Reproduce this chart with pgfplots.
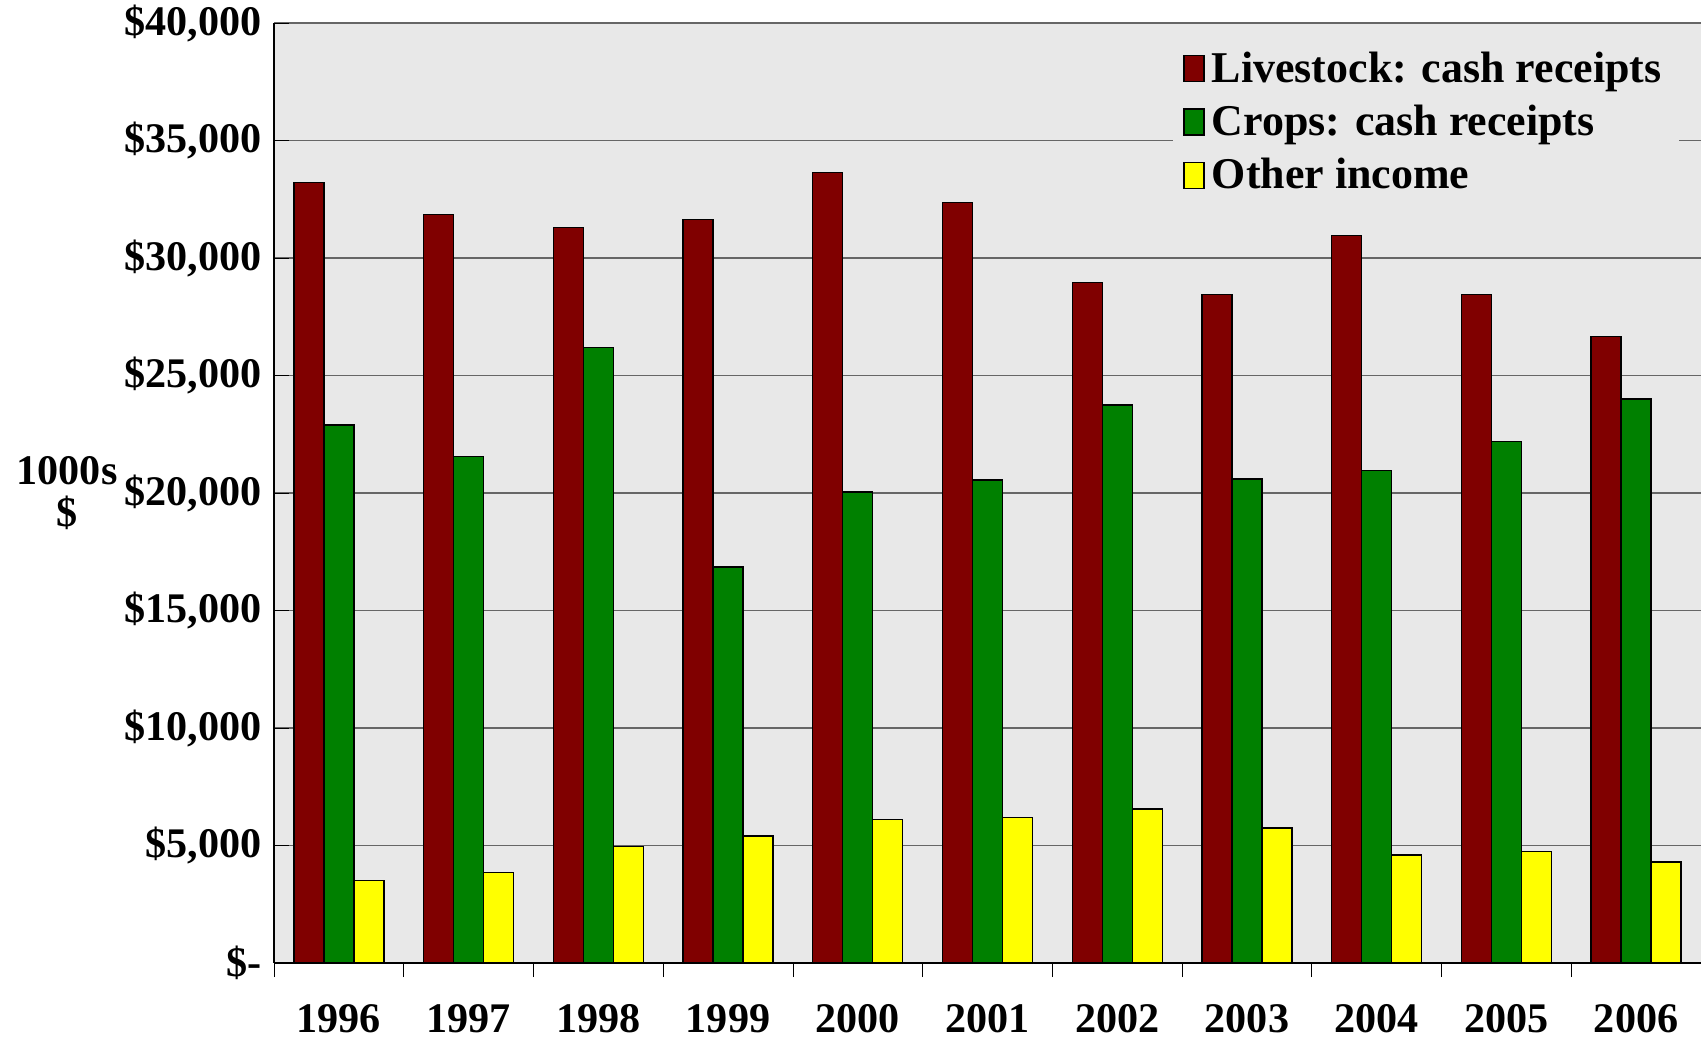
\documentclass[border=0pt]{standalone}
\usepackage{pgfplots}
\pgfplotsset{compat=1.18}
\usepackage{fontspec}
\setmainfont{Liberation Serif}
\begin{document}
\begin{tikzpicture}
\definecolor{live}{RGB}{128,0,0}
\definecolor{crop}{RGB}{0,128,0}
\definecolor{oth}{RGB}{255,255,0}
\path[use as bounding box] (-2.74cm,-0.8cm) rectangle (14.27cm,9.63cm);
\begin{axis}[
  scale only axis, width=14.27cm, height=9.4cm,
  ybar=0pt, bar width=0.30cm,
  xmin=-0.5, xmax=10.5, ymin=0, ymax=40000,
  xtick={0,...,10}, xticklabels={1996,1997,1998,1999,2000,2001,2002,2003,2004,2005,2006},
  minor xtick={-0.5,0.5,...,10.5},
  major x tick style={draw=none},
  minor x tick style={black}, minor tick length=4pt,
  xtick pos=bottom, xticklabel style={yshift=-4pt},
  ytick={0,5000,...,40000},
  yticklabels={\$-,\$5{,}000,\$10{,}000,\$15{,}000,\$20{,}000,\$25{,}000,\$30{,}000,\$35{,}000,\$40{,}000},
  ytick pos=left, ytick style={black},
  ymajorgrids, grid style={black!60, line width=0.4pt},
  axis background/.style={fill=gray!18},
  axis line style={black}, axis x line*=bottom, axis y line*=left,
  tick label style={font=\bfseries\fontsize{12}{14}\selectfont},
  ylabel={\bfseries\fontsize{12}{14}\selectfont\shortstack{1000s\\\$}},
  ylabel style={rotate=-90, at={(axis description cs:-0.145,0.5)}, anchor=center},
  legend style={at={(0.985,0.985)}, anchor=north east, draw=none, fill=gray!18,
    font=\bfseries\fontsize{12.5}{15}\selectfont, cells={anchor=west}, row sep=1pt},
  legend image code/.code={\draw[#1, draw=black] (0cm,-0.12cm) rectangle (0.2cm,0.14cm);},
]
\addplot[fill=live, draw=black] coordinates {(0,33200)(1,31850)(2,31300)(3,31650)(4,33650)(5,32350)(6,28950)(7,28450)(8,30950)(9,28450)(10,26650)};
\addplot[fill=crop, draw=black] coordinates {(0,22900)(1,21550)(2,26200)(3,16850)(4,20050)(5,20550)(6,23750)(7,20600)(8,20950)(9,22200)(10,24000)};
\addplot[fill=oth, draw=black] coordinates {(0,3500)(1,3850)(2,4950)(3,5400)(4,6100)(5,6200)(6,6550)(7,5750)(8,4600)(9,4750)(10,4300)};
\legend{Livestock: cash receipts, Crops: cash receipts, Other income}
\end{axis}
\end{tikzpicture}
\end{document}
